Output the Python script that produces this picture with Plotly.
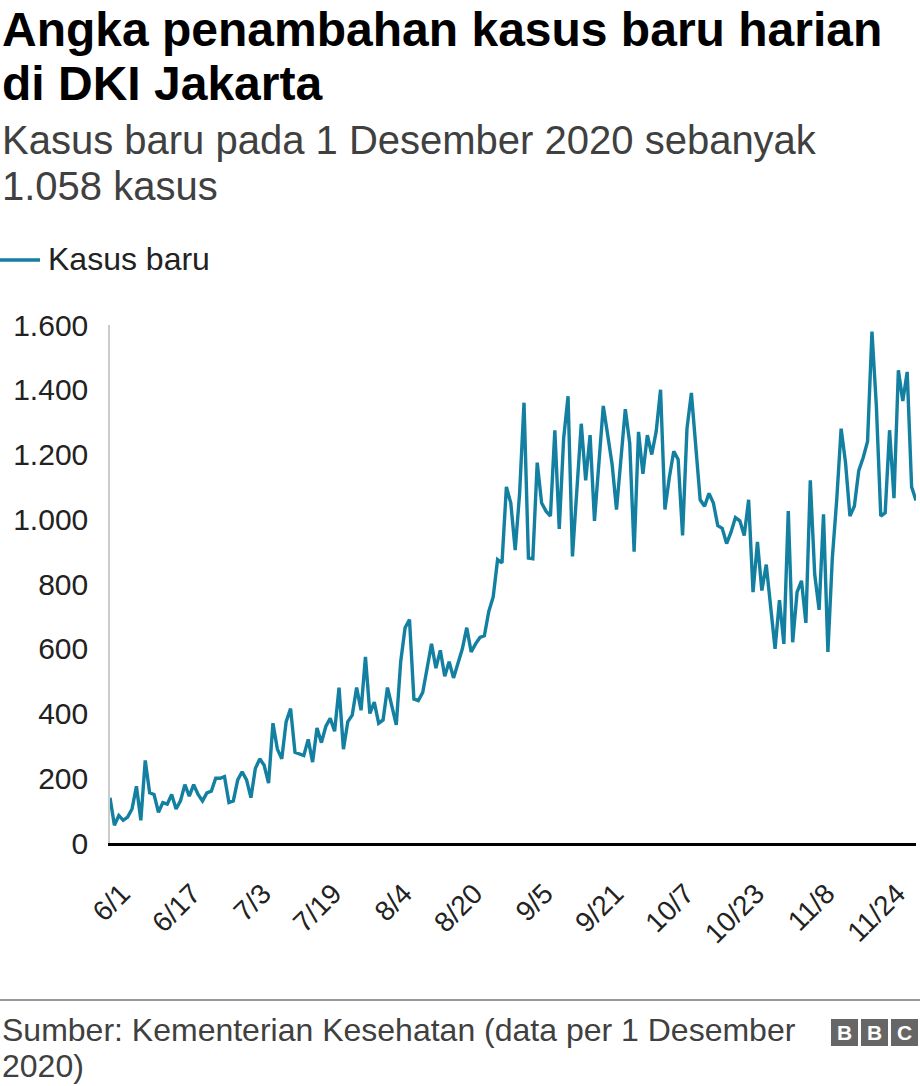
import pandas as pd
import plotly.graph_objects as go

# ---- data -------------------------------------------------------------
start_date = "2020-06-01"
kasus_baru = [
    140, 55, 85, 70, 80, 105, 175, 70, 255, 155,
    150, 95, 125, 120, 150, 105, 130, 180, 145, 180,
    150, 130, 155, 160, 200, 200, 205, 125, 130, 195,
    220, 195, 140, 230, 260, 240, 185, 370, 290, 260,
    375, 415, 280, 275, 270, 320, 250, 355, 310, 360,
    385, 345, 480, 290, 375, 395, 480, 410, 575, 400,
    435, 370, 380, 480, 420, 365, 560, 665, 690, 445,
    440, 465, 540, 615, 540, 595, 515, 560, 510, 555,
    600, 665, 590, 615, 635, 640, 715, 760, 875, 865,
    1100, 1050, 905, 1080, 1360, 880, 878, 1175, 1050, 1025,
    1010, 1275, 970, 1250, 1380, 885, 1080, 1295, 1120, 1260,
    995, 1180, 1350, 1260, 1170, 1030, 1180, 1340, 1235, 900,
    1270, 1140, 1260, 1200, 1270, 1400, 1030, 1130, 1210, 1185,
    950, 1280, 1390, 1210, 1060, 1040, 1080, 1050, 980, 972,
    925, 960, 1005, 995, 950, 1060, 775, 930, 780, 860,
    730, 600, 750, 615, 1025, 620, 775, 810, 680, 1120,
    830, 720, 1015, 590, 880, 1060, 1280, 1175, 1010, 1040,
    1150, 1190, 1240, 1580, 1350, 1010, 1020, 1275, 1065, 1460,
    1365, 1455, 1100, 1058,
]
dates = pd.date_range(start_date, periods=len(kasus_baru), freq="D")

x_tick_labels = ["6/1", "6/17", "7/3", "7/19", "8/4", "8/20",
                 "9/5", "9/21", "10/7", "10/23", "11/8", "11/24"]
x_tick_step = 16
y_tick_values = [0, 200, 400, 600, 800, 1000, 1200, 1400, 1600]
y_tick_labels = ["0", "200", "400", "600", "800", "1.000", "1.200", "1.400", "1.600"]

title_lines = ["Angka penambahan kasus baru harian", "di DKI Jakarta"]
subtitle_lines = ["Kasus baru pada 1 Desember 2020 sebanyak", "1.058 kasus"]
legend_label = "Kasus baru"
source_lines = ["Sumber: Kementerian Kesehatan (data per 1 Desember", "2020)"]

# ---- layout geometry (pixels) ------------------------------------------
W, H = 920, 1086
L, R, T, B = 110, 4, 325, 243
PW, PH = W - L - R, H - T - B
FONT = "Liberation Sans, Arial, Helvetica, sans-serif"
LINE_COLOR = "#1380A1"
GREY_TEXT = "#404040"


def px(x):
    return (x - L) / PW


def py(y):
    return (H - B - y) / PH


fig = go.Figure()
fig.add_trace(go.Scatter(
    x=dates, y=kasus_baru, mode="lines", name=legend_label,
    line=dict(color=LINE_COLOR, width=3.4), showlegend=False,
    hoverinfo="skip",
))

annotations = []


def text(x, y, s, size, color="#222222", bold=False, xanchor="left"):
    annotations.append(dict(
        x=px(x), y=py(y), xref="paper", yref="paper",
        text=f"<b>{s}</b>" if bold else s, showarrow=False,
        xanchor=xanchor, yanchor="middle",
        font=dict(family=FONT, size=size, color=color),
    ))


text(0, 30, title_lines[0], 48, "#000000", bold=True)
text(0, 83, title_lines[1], 48, "#000000", bold=True)
text(0, 140, subtitle_lines[0], 40, GREY_TEXT)
text(0, 186, subtitle_lines[1], 40, GREY_TEXT)
text(46, 259, legend_label, 32, "#222222")
text(0, 1030, source_lines[0], 32, GREY_TEXT)
text(0, 1066, source_lines[1], 32, GREY_TEXT)

shapes = [
    # legend swatch
    dict(type="line", xref="paper", yref="paper", x0=px(0), x1=px(40),
         y0=py(260), y1=py(260), line=dict(color=LINE_COLOR, width=3.5)),
    # footer rule
    dict(type="line", xref="paper", yref="paper", x0=px(0), x1=px(920),
         y0=py(1000), y1=py(1000), line=dict(color="#777777", width=1.5)),
]

# BBC blocks
for i, letter in enumerate("BBC"):
    x0 = 831 + i * 30
    shapes.append(dict(type="rect", xref="paper", yref="paper",
                       x0=px(x0), x1=px(x0 + 27), y0=py(1046), y1=py(1019),
                       fillcolor="#666666", line=dict(width=0)))
    annotations.append(dict(
        x=px(x0 + 13.5), y=py(1032.5), xref="paper", yref="paper",
        text=f"<b>{letter}</b>", showarrow=False, xanchor="center",
        yanchor="middle", font=dict(family=FONT, size=21, color="white"),
    ))

fig.update_layout(
    width=W, height=H,
    margin=dict(l=L, r=R, t=T, b=B, pad=0),
    paper_bgcolor="white", plot_bgcolor="white",
    showlegend=False,
    annotations=annotations, shapes=shapes,
    xaxis=dict(
        range=[dates[0], dates[-1]],
        tickvals=list(dates[::x_tick_step]), ticktext=x_tick_labels,
        tickangle=-45, showgrid=False, zeroline=False,
        showline=True, linecolor="#000000", linewidth=3,
        ticks="", ticklabelstandoff=20, ticklabelshift=12,
        tickfont=dict(family=FONT, size=28, color="#222222"),
    ),
    yaxis=dict(
        range=[0, 1600],
        tickvals=y_tick_values, ticktext=y_tick_labels,
        showgrid=False, zeroline=False,
        showline=True, linecolor="#cccccc", linewidth=1.5,
        ticks="", ticklabelstandoff=14,
        tickfont=dict(family=FONT, size=30, color="#222222"),
    ),
)

fig.write_html(
    "out.html",
    config={"displayModeBar": False},
    post_script="document.body.style.margin='0';document.body.style.overflow='hidden';",
)
